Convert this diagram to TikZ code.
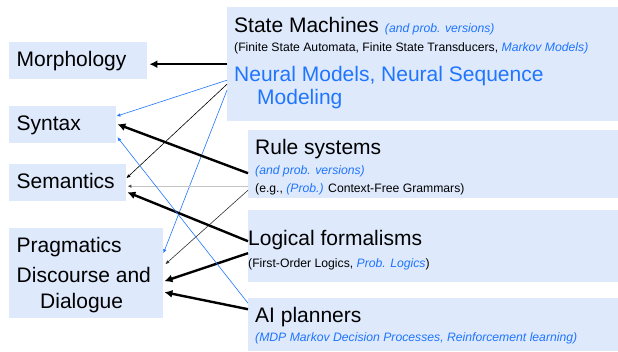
\documentclass[tikz,border=0pt]{standalone}
\usepackage{fontspec}
\setmainfont{Liberation Sans}
\usetikzlibrary{arrows.meta}
\definecolor{boxfill}{HTML}{DEE9FC}
\definecolor{hiblue}{HTML}{1F75FE}
\definecolor{lgray}{HTML}{C4C4C4}
\tikzset{
  box/.style={fill=boxfill, draw=none, inner sep=0pt, anchor=north west},
  big/.style={font=\fontsize{21}{24}\selectfont, inner sep=0pt, anchor=base west},
  small/.style={font=\fontsize{12.2}{14}\selectfont, inner sep=0pt, anchor=base west},
  thickarr/.style={line width=2.4pt, -{Latex[length=8pt,width=8pt]}},
  thinarr/.style={line width=0.6pt, -{Latex[length=4pt,width=3.5pt]}},
}
\begin{document}
\begin{tikzpicture}[x=1pt,y=-1pt]
\useasboundingbox (0,0) rectangle (618,351);
% boxes
\node[box, minimum width=138pt, minimum height=37pt] (morph) at (9,42) {};
\node[box, minimum width=107pt, minimum height=37pt] (syn) at (9,106) {};
\node[box, minimum width=117pt, minimum height=37pt] (sem) at (9,164) {};
\node[box, minimum width=154pt, minimum height=90pt] (prag) at (9,228) {};
\node[box, minimum width=391pt, minimum height=114pt] (sm) at (227,7) {};
\node[box, minimum width=370pt, minimum height=68pt] (rule) at (248,130) {};
\node[box, minimum width=370pt, minimum height=72pt] (logic) at (248,210) {};
\node[box, minimum width=370pt, minimum height=53pt] (ai) at (248,298) {};
% left texts
\node[big] (tmorph) at (16.5,66.5) {Morphology};
\node[big] (tsyn) at (16.5,130) {Syntax};
\node[big] (tsem) at (16.5,188) {Semantics};
\node[big] (tprag) at (16.5,252.5) {Pragmatics};
\node[big] (tdisc) at (16.5,282.5) {Discourse and};
\node[big] (tdial) at (40,308) {Dialogue};
% right texts
\node[big] (tsm) at (234,32) {State Machines\hspace{6pt}{\fontsize{12.2}{14}\selectfont\itshape\color{hiblue}(and prob. versions)}};
\node[small] (tfsa) at (234,51.5) {(Finite State Automata, Finite State Transducers, {\itshape\color{hiblue}Markov Models)}};
\node[big, text=hiblue] (tneu) at (234,81) {Neural Models, Neural Sequence};
\node[big, text=hiblue] (tmod) at (257,104) {Modeling};
\node[big] (trule) at (255,154) {Rule systems};
\node[small, text=hiblue, font=\fontsize{12.2}{14}\selectfont\itshape] (trp) at (255,174) {(and prob. versions)};
\node[small] (tcfg) at (255,192) {(e.g., {\itshape\color{hiblue}(Prob.)} Context-Free Grammars)};
\node[big] (tlog) at (248,245.5) {Logical formalisms};
\node[small] (tfol) at (248,267.5) {(First-Order Logics, {\itshape\color{hiblue}Prob. Logics})};
\node[big] (tai) at (255,322) {AI planners};
\node[small, text=hiblue, font=\fontsize{12.2}{14}\selectfont\itshape] (tmdp) at (255,341.5) {(MDP Markov Decision Processes, Reinforcement learning)};
% connectors
\draw[thickarr] (sm.west) -- ([xshift=2pt,yshift=-3.5pt]morph.east);
\draw[thinarr, hiblue] ([yshift=-16pt]sm.west) -- ([yshift=8.5pt]syn.east);
\draw[thinarr, black] ([yshift=-20pt]sm.west) -- ([yshift=4.5pt]sem.east);
\draw[thinarr, hiblue] ([yshift=-26pt]sm.west) -- ([yshift=20pt]prag.east);
\draw[thickarr] ([yshift=-9pt]rule.west) -- ([xshift=1pt,yshift=0.5pt]syn.east);
\draw[thinarr, lgray, line width=1.1pt, -{Latex[length=4pt,width=3.5pt,color=black!70]}] ([yshift=-22pt]rule.west) -- ([xshift=1pt,yshift=-3.5pt]sem.east);
\draw[thinarr, black!80] ([yshift=-26pt]rule.west) -- ([xshift=2pt,yshift=9pt]prag.east);
\draw[thickarr] ([yshift=5pt]logic.west) -- ([xshift=1pt,yshift=-9.5pt]sem.east);
\draw[thickarr] ([yshift=-7pt]logic.west) -- ([xshift=1pt,yshift=-8pt]prag.east);
\draw[thickarr] ([yshift=15.5pt]ai.west) -- ([xshift=1pt,yshift=-19pt]prag.east);
\draw[thinarr, hiblue] ([yshift=21.5pt]ai.west) -- ([xshift=1pt,yshift=-12.5pt]syn.east);
\end{tikzpicture}
\end{document}
